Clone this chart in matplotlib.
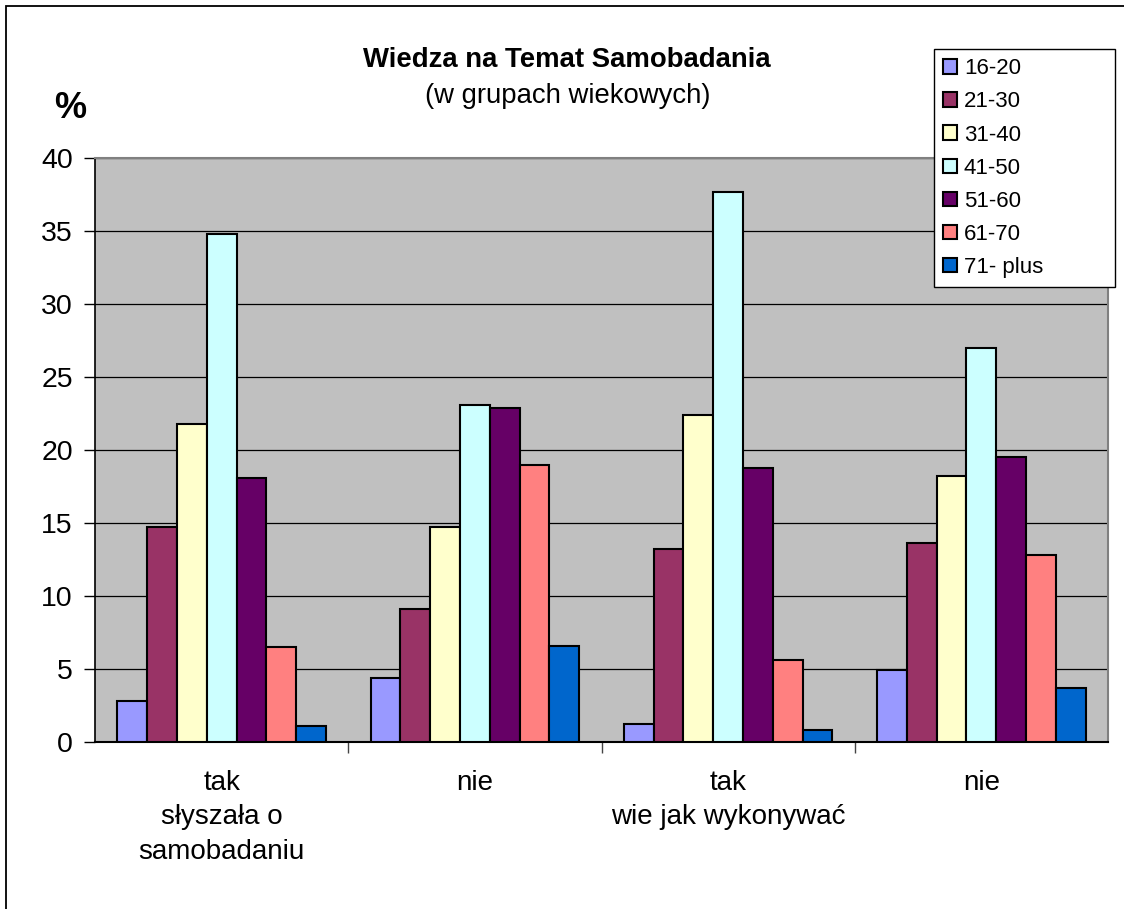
import matplotlib
matplotlib.use("Agg")
import matplotlib.pyplot as plt
from matplotlib.patches import Rectangle
import numpy as np

plt.rcParams['font.family'] = ['Liberation Sans', 'DejaVu Sans']

categories = ["tak\nsłyszała o\nsamobadaniu", "nie", "tak\nwie jak wykonywać", "nie"]
age_groups = ["16-20", "21-30", "31-40", "41-50", "51-60", "61-70", "71- plus"]
colors = ["#9999FF", "#993366", "#FFFFCC", "#CCFFFF", "#660066", "#FF8080", "#0066CC"]

# one list per age group, values for the four categories
v_16_20 = [2.8, 4.4, 1.2, 4.9]
v_21_30 = [14.7, 9.1, 13.2, 13.6]
v_31_40 = [21.8, 14.7, 22.4, 18.2]
v_41_50 = [34.8, 23.1, 37.7, 27.0]
v_51_60 = [18.1, 22.9, 18.8, 19.5]
v_61_70 = [6.5, 19.0, 5.6, 12.8]
v_71_plus = [1.1, 6.6, 0.8, 3.7]
series = [v_16_20, v_21_30, v_31_40, v_41_50, v_51_60, v_61_70, v_71_plus]

W, H = 1124, 909
fig = plt.figure(figsize=(W / 100, H / 100), dpi=100)
ax = fig.add_axes([95 / W, 1 - 742 / H, (1108 - 95) / W, (742 - 158) / H])
ax.set_facecolor("#C0C0C0")

x = np.arange(len(categories))
bw = 1 / 8.5
for j, (vals, col, lab) in enumerate(zip(series, colors, age_groups)):
    ax.bar(x + (j - 3) * bw, vals, width=bw, color=col, edgecolor="black",
           linewidth=1.5, label=lab, zorder=3)

ax.set_xlim(-0.5, len(categories) - 0.5)
ax.set_ylim(0, 40)
ax.set_yticks(range(0, 41, 5))
ax.yaxis.grid(True, color="black", linewidth=0.9, zorder=1)
ax.set_axisbelow(True)

ax.set_xticks(x)
ax.set_xticklabels(categories, fontsize=20, linespacing=1.42, va="top")
ax.set_xticks(np.arange(0.5, len(categories) - 1, 1.0), minor=True)
ax.tick_params(axis="x", which="major", length=0, pad=20)
ax.tick_params(axis="x", which="minor", length=8, width=1, color="#444444")
ax.tick_params(axis="y", length=8, width=1, labelsize=20.5, pad=8)

for s in ["top", "right"]:
    ax.spines[s].set_color("#808080")
    ax.spines[s].set_linewidth(1.5)
ax.spines["left"].set_color("black")
ax.spines["bottom"].set_color("black")
ax.spines["left"].set_linewidth(1.2)
ax.spines["bottom"].set_linewidth(1.5)

fig.text(567 / W, 1 - 60 / H, "Wiedza na Temat Samobadania", ha="center", va="center",
         fontsize=19.8, fontweight="bold")
fig.text(568 / W, 1 - 96 / H, "(w grupach wiekowych)", ha="center", va="center", fontsize=19.8)
fig.text(70 / W, 1 - 108 / H, "%", ha="center", va="center", fontsize=26, fontweight="bold")

leg = fig.legend(loc="upper left",
                 bbox_to_anchor=(934 / W, 1 - 282 / H, (1115 - 934) / W, (282 - 49) / H),
                 mode="expand", fontsize=16,
                 handlelength=0.63, handleheight=0.63, handletextpad=0.3,
                 labelspacing=0.545, borderpad=0.42, borderaxespad=0,
                 fancybox=False, framealpha=1, edgecolor="black")
leg.get_frame().set_linewidth(1.0)

fig.add_artist(Rectangle((6 / W, -0.1), 1.2, 1 - 6 / H + 0.1, transform=fig.transFigure,
                         fill=False, edgecolor="black", linewidth=1.3))

fig.savefig("out.png", dpi=100)
